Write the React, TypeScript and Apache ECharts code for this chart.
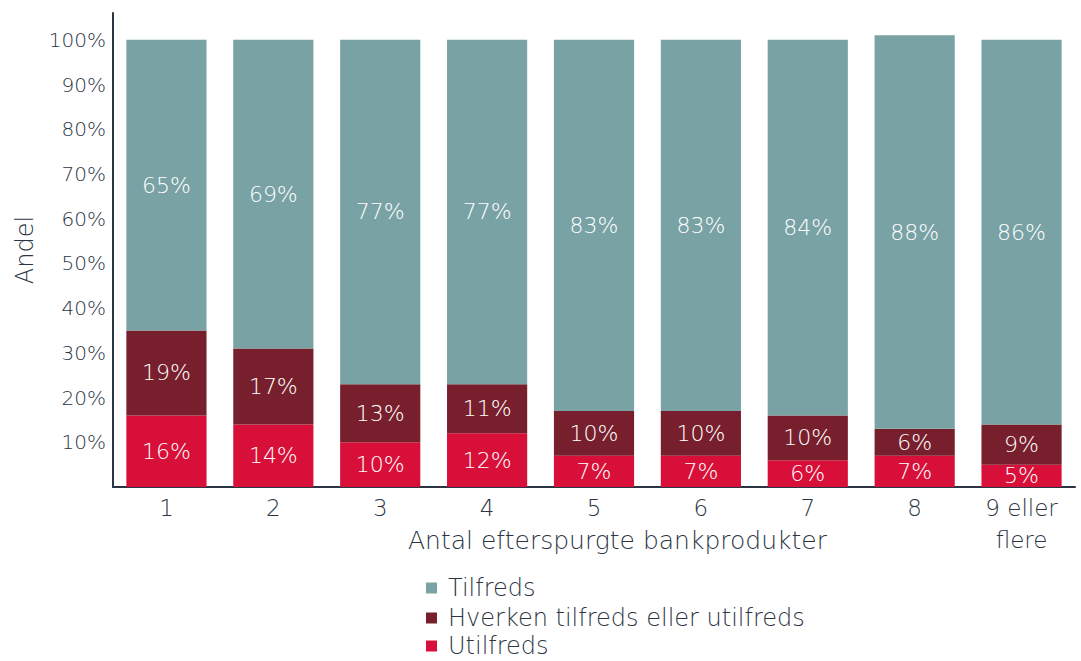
import React, { useEffect, useRef } from "react";
import * as echarts from "echarts";

const categories = ["1", "2", "3", "4", "5", "6", "7", "8", "9 eller\nflere"];
const utilfreds = [16, 14, 10, 12, 7, 7, 6, 7, 5];
const hverken = [19, 17, 13, 11, 10, 10, 10, 6, 9];
const tilfreds = [65, 69, 77, 77, 83, 83, 84, 88, 86];
const seriesNames = ["Tilfreds", "Hverken tilfreds eller utilfreds", "Utilfreds"];
const yTicks = [0, 10, 20, 30, 40, 50, 60, 70, 80, 90, 100];
const xAxisTitle = "Antal efterspurgte bankprodukter";
const yAxisTitle = "Andel";

const FONT = "DejaVu Sans";
const TEXT = "#2b3543";
const TEAL = "#79a2a5";
const DARKRED = "#781f2d";
const RED = "#d80f38";

export default function App() {
  const ref = useRef<HTMLDivElement>(null);
  useEffect(() => {
    if (!ref.current) return;
    const chart = echarts.init(ref.current, null, { renderer: "svg" });
    const label = {
      show: true,
      position: "inside",
      color: "#ffffff",
      fontFamily: FONT,
      fontWeight: 300,
      fontSize: 22,
      formatter: (p: any) => p.value + "%",
    };
    const mk = (name: string, data: number[], color: string) => ({
      name,
      type: "bar",
      stack: "total",
      data,
      barWidth: "75%",
      itemStyle: { color },
      label,
    });
    const legendItem = (name: string, top: number) => ({
      orient: "vertical",
      left: 426,
      top,
      padding: 0,
      itemWidth: 11,
      itemHeight: 11,
      icon: "rect",
      data: [name],
      textStyle: {
        color: TEXT,
        fontFamily: FONT,
        fontWeight: 300,
        fontSize: 24,
        lineHeight: 20,
        padding: [0, 0, 0, 6],
      },
    });
    chart.setOption({
      animation: false,
      textStyle: { fontFamily: FONT },
      grid: { left: 113, right: 6, top: 13, bottom: 174, outerBoundsMode: "none", containLabel: false },
      xAxis: {
        type: "category",
        data: categories,
        axisLine: { lineStyle: { color: TEXT, width: 2 } },
        axisTick: { show: false },
        axisLabel: {
          color: TEXT,
          fontFamily: FONT,
          fontWeight: 300,
          fontSize: 23,
          lineHeight: 32,
          margin: 5,
        },
      },
      yAxis: {
        type: "value",
        min: 0,
        max: 106,
        interval: 10,
        name: yAxisTitle,
        nameLocation: "middle",
        nameGap: 76,
        nameRotate: 90,
        nameTextStyle: { color: TEXT, fontFamily: FONT, fontWeight: 300, fontSize: 24 },
        splitLine: { show: false },
        axisTick: { show: false },
        axisLine: { show: true, lineStyle: { color: TEXT, width: 2 } },
        axisLabel: {
          color: TEXT,
          fontFamily: FONT,
          fontWeight: 300,
          fontSize: 20,
          margin: 7,
          formatter: (v: number) => (v === 0 || yTicks.indexOf(v) < 0 ? "" : v + "%"),
        },
      },
      legend: [
        legendItem(seriesNames[0], 576),
        legendItem(seriesNames[1], 606),
        legendItem(seriesNames[2], 634),
      ],
      graphic: [
        {
          type: "text",
          left: 408,
          top: 528,
          style: {
            text: xAxisTitle,
            fill: TEXT,
            font: `300 25px '${FONT}'`,
          },
        },
      ],
      series: [
        mk(seriesNames[2], utilfreds, RED),
        mk(seriesNames[1], hverken, DARKRED),
        mk(seriesNames[0], tilfreds, TEAL),
      ],
    });
    return () => chart.dispose();
  }, []);
  return (
    <div
      ref={ref}
      style={{ position: "fixed", left: 0, top: 0, width: 1081, height: 661, background: "#fff" }}
    />
  );
}
